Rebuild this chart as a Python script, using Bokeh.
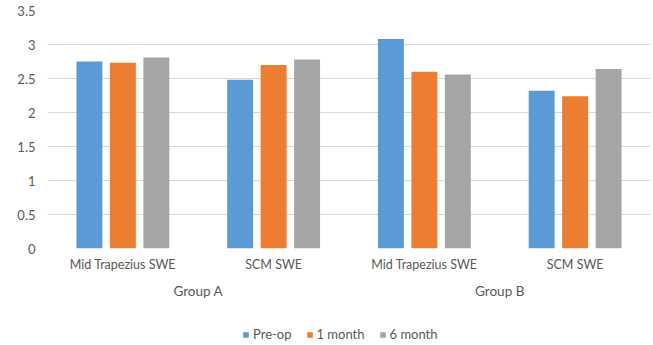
from bokeh.plotting import figure
from bokeh.layouts import column
from bokeh.models import ColumnDataSource, FactorRange, Legend, LegendItem, Range1d, FixedTicker
from bokeh.transform import dodge
from bokeh.embed import file_html
from bokeh.resources import INLINE

groups = ["Group A", "Group A", "Group B", "Group B"]
muscles = ["Mid Trapezius SWE", "SCM SWE", "Mid Trapezius SWE", "SCM SWE"]
pre_op = [2.75, 2.48, 3.08, 2.32]
one_month = [2.73, 2.70, 2.60, 2.24]
six_month = [2.81, 2.78, 2.56, 2.64]
series_names = ["Pre-op", "1 month", "6 month"]
colors = ["#5B9BD5", "#ED7D31", "#A5A5A5"]
y_ticks = [0, 0.5, 1, 1.5, 2, 2.5, 3, 3.5]

factors = list(zip(groups, muscles))
source = ColumnDataSource(dict(x=factors, pre=pre_op, one=one_month, six=six_month))

FONT = "Lato"
TEXT = "#595959"

x_range = FactorRange(*factors, factor_padding=0, group_padding=0, range_padding=0)
p = figure(width=653, height=310, x_range=x_range, y_range=Range1d(0, 3.5),
           output_backend="svg", toolbar_location=None,
           min_border_left=47, min_border_right=3, min_border_top=10,
           min_border_bottom=62)
p.outline_line_color = None

bar_w = 0.172
step = 0.222
for off, col, color in zip([-step, 0, step], ["pre", "one", "six"], colors):
    p.vbar(x=dodge("x", off, range=p.x_range), top=col, width=bar_w,
           source=source, fill_color=color, line_color=None)

p.xgrid.grid_line_color = None
p.ygrid.grid_line_color = "#D9D9D9"
p.ygrid.grid_line_width = 1
p.yaxis.ticker = FixedTicker(ticks=y_ticks)
p.yaxis.axis_line_color = None
p.yaxis.major_tick_line_color = None
p.yaxis.minor_tick_line_color = None
p.yaxis.major_tick_out = 0
p.yaxis.major_label_text_font = FONT
p.yaxis.major_label_text_font_size = "13px"
p.yaxis.major_label_text_color = TEXT
p.yaxis.major_label_standoff = 12

p.xaxis.axis_line_color = None
p.xaxis.major_tick_line_color = None
p.xaxis.minor_tick_line_color = None
p.xaxis.major_tick_out = 0
p.xaxis.separator_line_alpha = 0
p.xaxis.major_label_text_font = FONT
p.xaxis.major_label_text_font_size = "12.5px"
p.xaxis.major_label_text_color = TEXT
p.xaxis.group_text_font = FONT
p.xaxis.group_text_font_size = "13.5px"
p.xaxis.group_text_font_style = "normal"
p.xaxis.group_text_color = TEXT
p.xaxis.major_label_standoff = 8
p.xaxis.group_label_orientation = "horizontal"

# separate strip underneath for the series legend
leg_fig = figure(width=653, height=35, x_range=Range1d(0, 1), y_range=Range1d(0, 1),
                 output_backend="svg", toolbar_location=None,
                 min_border_left=47, min_border_right=3, min_border_top=0, min_border_bottom=0)
leg_fig.axis.visible = False
leg_fig.grid.visible = False
leg_fig.outline_line_color = None
swatches = []
for color in colors:
    # swatch renderers sit outside the visible range; only their legend glyphs show
    swatches.append(leg_fig.vbar(x=[-5], top=[-5], width=0.1, fill_color=color, line_color=None))

legend = Legend(items=[LegendItem(label=n, renderers=[r]) for n, r in zip(series_names, swatches)],
                orientation="horizontal", location=(195, 3),
                label_text_font=FONT, label_text_font_size="13px", label_text_color=TEXT,
                glyph_width=7, glyph_height=7, label_height=14, spacing=14, label_standoff=4,
                border_line_color=None, background_fill_alpha=0, margin=0, padding=0)
leg_fig.add_layout(legend)

layout = column(p, leg_fig, spacing=0)
open("out.html", "w").write(file_html(layout, INLINE))
